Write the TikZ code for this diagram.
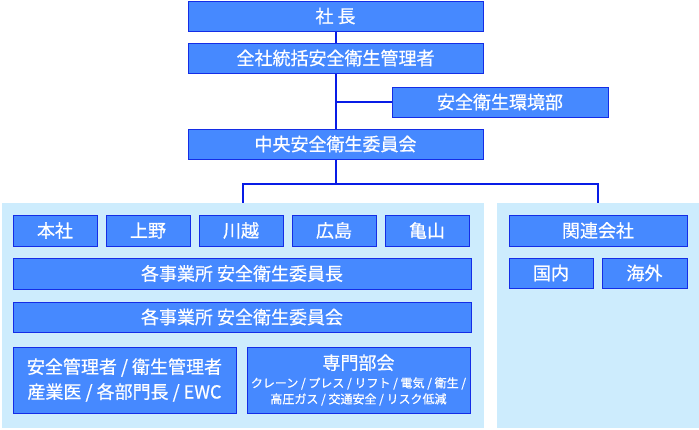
\documentclass[tikz,border=0pt]{standalone}
\usepackage{fontspec}
\setmainfont{Noto Sans CJK JP}[FakeBold=0.6]
\definecolor{boxfill}{RGB}{70,137,255}
\definecolor{boxline}{RGB}{20,45,230}
\definecolor{panel}{RGB}{205,236,253}
\definecolor{wire}{RGB}{8,28,230}
\tikzset{
  box/.style={draw=boxline, fill=boxfill, line width=1pt, text=white, inner sep=0pt,
    minimum height=30pt, font=\fontsize{18}{21}\selectfont},
  panelbox/.style={fill=panel, inner sep=0pt, minimum height=225pt},
  wire/.style={draw=wire, line width=2pt}
}
\newcommand{\smalljp}{\fontsize{12}{15.5}\selectfont}
\begin{document}
\begin{tikzpicture}[x=1pt,y=-1pt]
\useasboundingbox (0,0) rectangle (699,429);
\node[panelbox, minimum width=482pt] (panelL) at (243,315.5) {};
\node[panelbox, minimum width=202pt] (panelR) at (598,315.5) {};
\node[box, minimum width=295pt] (pres) at (335.5,16) {社 長};
\node[box, minimum width=295pt] (mgr) at (335.5,58) {全社統括安全衛生管理者};
\node[box, minimum width=216pt] (env) at (500,102) {安全衛生環境部};
\node[box, minimum width=295pt] (cent) at (335.5,144) {中央安全衛生委員会};
\draw[wire] (pres) -- (mgr);
\draw[wire] (mgr) -- (cent);
\draw[wire] (env.west) -- (mgr.south |- env.west);
\draw[wire] (cent.south) -- ++(0,24) -| (panelL.north);
\draw[wire] (cent.south) ++(0,24) -| (panelR.north);
\foreach \name [count=\i] in {本社,上野,川越,広島,亀山}
  \node[box, minimum width=84pt, minimum height=31pt] (site\i) at ({55+93*(\i-1)},230.5) {\name};
\node[box, minimum width=458pt, minimum height=31pt] (chief) at (242,273.5) {各事業所 安全衛生委員長};
\node[box, minimum width=458pt] (comm) at (242,317) {各事業所 安全衛生委員会};
\node[box, minimum width=223pt, minimum height=66pt, align=center,
  font=\fontsize{18}{25}\selectfont] (staff) at (124.5,380)
  {安全管理者 / 衛生管理者\\産業医 / 各部門長 / EWC};
\node[box, minimum width=223pt, minimum height=66pt, align=center] (expert) at (358.5,380)
  {専門部会\\[-3pt]\smalljp クレーン / プレス / リフト / 電気 / 衛生 /\\[-5pt]\smalljp 高圧ガス / 交通安全 / リスク低減};
\node[box, minimum width=178pt, minimum height=31pt] (affil) at (598,230.5) {関連会社};
\node[box, minimum width=84pt] (dom) at (551,273) {国内};
\node[box, minimum width=85pt] (intl) at (644.5,273) {海外};
\end{tikzpicture}
\end{document}
